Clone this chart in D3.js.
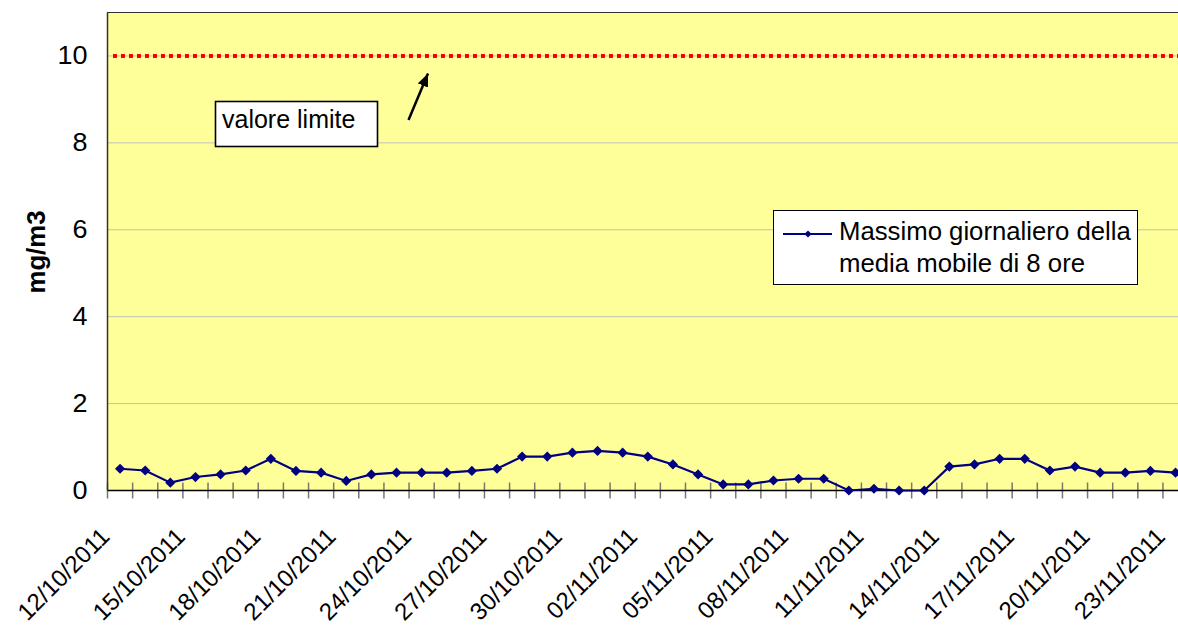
<!DOCTYPE html>
<html lang="it">
<head>
<meta charset="UTF-8">
<script src="https://d3js.org/d3.v7.min.js"></script>
<style>
  html, body { margin: 0; padding: 0; background: #ffffff; }
  svg { display: block; font-family: "Liberation Sans", Arial, sans-serif; }
</style>
</head>
<body>
<div id="chart"></div>
<script>
// giorni (asse delle categorie)
const giorni = [
  "12/10/2011","13/10/2011","14/10/2011","15/10/2011","16/10/2011","17/10/2011","18/10/2011",
  "19/10/2011","20/10/2011","21/10/2011","22/10/2011","23/10/2011","24/10/2011","25/10/2011",
  "26/10/2011","27/10/2011","28/10/2011","29/10/2011","30/10/2011","31/10/2011","01/11/2011",
  "02/11/2011","03/11/2011","04/11/2011","05/11/2011","06/11/2011","07/11/2011","08/11/2011",
  "09/11/2011","10/11/2011","11/11/2011","12/11/2011","13/11/2011","14/11/2011","15/11/2011",
  "16/11/2011","17/11/2011","18/11/2011","19/11/2011","20/11/2011","21/11/2011","22/11/2011",
  "23/11/2011"
];

// massimo giornaliero della media mobile di 8 ore (mg/m3)
const massimi = [
  0.50, 0.46, 0.18, 0.31, 0.37, 0.46, 0.73,
  0.45, 0.41, 0.22, 0.37, 0.41, 0.41, 0.41,
  0.45, 0.50, 0.78, 0.78, 0.87, 0.91, 0.87,
  0.78, 0.60, 0.37, 0.14, 0.14, 0.23, 0.27,
  0.27, 0.00, 0.04, 0.00, 0.00, 0.55, 0.60,
  0.73, 0.73, 0.46, 0.55, 0.41, 0.41, 0.45,
  0.41
];

// etichette mostrate sull'asse x (una ogni 3 giorni)
const etichetteX = [
  "12/10/2011","15/10/2011","18/10/2011","21/10/2011","24/10/2011","27/10/2011","30/10/2011",
  "02/11/2011","05/11/2011","08/11/2011","11/11/2011","14/11/2011","17/11/2011","20/11/2011",
  "23/11/2011"
];

const ticksY = [0, 2, 4, 6, 8, 10];
const valoreLimite = 10;

const W = 1178, H = 631;
const pLeft = 107.5, pTop = 12.5, pBottom = 490.5, passo = 25.13;

const svg = d3.select("#chart").append("svg")
  .attr("width", W).attr("height", H);

const x = d3.scaleBand()
  .domain(giorni)
  .range([pLeft, pLeft + giorni.length * passo])
  .padding(0);
const y = d3.scaleLinear().domain([0, 11]).range([pBottom, pTop]);
const bw = x.bandwidth();
const pRight = x.range()[1];

// area del grafico
svg.append("rect")
  .attr("x", pLeft).attr("y", pTop)
  .attr("width", pRight - pLeft).attr("height", pBottom - pTop)
  .attr("fill", "#FFFF99")
  .attr("stroke", "#333").attr("stroke-width", 1);

// griglia
svg.selectAll(".grid").data(ticksY.filter(v => v > 0)).enter()
  .append("line")
  .attr("x1", pLeft).attr("x2", pRight)
  .attr("y1", d => y(d)).attr("y2", d => y(d))
  .attr("stroke", "#c0c0c0").attr("stroke-width", 1);

// linea del valore limite
svg.append("line")
  .attr("x1", x(giorni[0]) + 5.5).attr("x2", pRight)
  .attr("y1", y(valoreLimite)).attr("y2", y(valoreLimite))
  .attr("stroke", "#FF0000").attr("stroke-width", 4)
  .attr("stroke-dasharray", "4,4");

// tacche asse x (tra le categorie)
const bordi = giorni.map(g => x(g)).concat([pRight]);
svg.selectAll(".tick-x").data(bordi).enter()
  .append("line")
  .attr("x1", d => d).attr("x2", d => d)
  .attr("y1", pBottom - 8).attr("y2", pBottom + 8)
  .attr("stroke", "#777").attr("stroke-width", 1.5);

// assi
svg.append("line")
  .attr("x1", pLeft).attr("x2", pRight)
  .attr("y1", pBottom).attr("y2", pBottom)
  .attr("stroke", "#000").attr("stroke-width", 1.5);
svg.append("line")
  .attr("x1", pLeft).attr("x2", pLeft)
  .attr("y1", pTop).attr("y2", pBottom)
  .attr("stroke", "#333").attr("stroke-width", 1.5);

// serie
const dati = giorni.map((g, i) => ({ giorno: g, valore: massimi[i] }));
const linea = d3.line()
  .x(d => x(d.giorno) + bw / 2)
  .y(d => y(d.valore));

svg.append("path")
  .datum(dati)
  .attr("d", linea)
  .attr("fill", "none")
  .attr("stroke", "#000080").attr("stroke-width", 2.2);

const diamante = d3.symbol().type(d3.symbolSquare).size(52);
svg.selectAll(".punto").data(dati).enter()
  .append("path")
  .attr("d", diamante)
  .attr("transform", d => `translate(${x(d.giorno) + bw / 2},${y(d.valore)}) rotate(45)`)
  .attr("fill", "#000080");

// etichette asse y
svg.selectAll(".lab-y").data(ticksY).enter()
  .append("text")
  .attr("transform", d => `translate(87.5,${y(d)}) scale(1.08,1)`)
  .attr("dy", "0.34em")
  .attr("text-anchor", "end")
  .attr("font-size", "25px")
  .attr("fill", "#000")
  .text(d => d);

// titolo asse y
svg.append("text")
  .attr("transform", "translate(45,252) rotate(-90) scale(1.03,1)")
  .attr("text-anchor", "middle")
  .attr("font-size", "25px")
  .attr("font-weight", "bold")
  .text("mg/m3");

// etichette asse x ruotate
svg.selectAll(".lab-x").data(etichetteX).enter()
  .append("text")
  .attr("transform", d => `translate(${x(d) + bw / 2 - 9},538) rotate(-45)`)
  .attr("text-anchor", "end")
  .attr("font-size", "24px")
  .text(d => d);

// casella "valore limite"
svg.append("rect")
  .attr("x", 215.5).attr("y", 101.5)
  .attr("width", 162).attr("height", 45)
  .attr("fill", "#fff").attr("stroke", "#000").attr("stroke-width", 1.6);
svg.append("text")
  .attr("x", 222).attr("y", 127.5)
  .attr("font-size", "25px")
  .text("valore limite");

// freccia
svg.append("defs").append("marker")
  .attr("id", "freccia")
  .attr("viewBox", "0 -5 12 10")
  .attr("refX", 12).attr("refY", 0)
  .attr("markerUnits", "userSpaceOnUse")
  .attr("markerWidth", 13).attr("markerHeight", 11)
  .attr("orient", "auto")
  .append("path")
  .attr("d", "M0,-5L12,0L0,5Z")
  .attr("fill", "#000");

svg.append("line")
  .attr("x1", 408.5).attr("y1", 120)
  .attr("x2", 428).attr("y2", 73.5)
  .attr("stroke", "#000").attr("stroke-width", 2.5)
  .attr("marker-end", "url(#freccia)");

// legenda
const leg = svg.append("g");
leg.append("rect")
  .attr("x", 773.5).attr("y", 210.5)
  .attr("width", 364).attr("height", 74)
  .attr("fill", "#fff").attr("stroke", "#000").attr("stroke-width", 1);
leg.append("line")
  .attr("x1", 783).attr("x2", 832)
  .attr("y1", 234).attr("y2", 234)
  .attr("stroke", "#000080").attr("stroke-width", 2);
leg.append("path")
  .attr("d", d3.symbol().type(d3.symbolSquare).size(26))
  .attr("transform", "translate(808,234) rotate(45)")
  .attr("fill", "#000080");
leg.append("text")
  .attr("transform", "translate(839,239.5) scale(1.03,1)")
  .attr("font-size", "25px")
  .text("Massimo giornaliero della");
leg.append("text")
  .attr("transform", "translate(839,272) scale(1.03,1)")
  .attr("font-size", "25px")
  .text("media mobile di 8 ore");
</script>
</body>
</html>
